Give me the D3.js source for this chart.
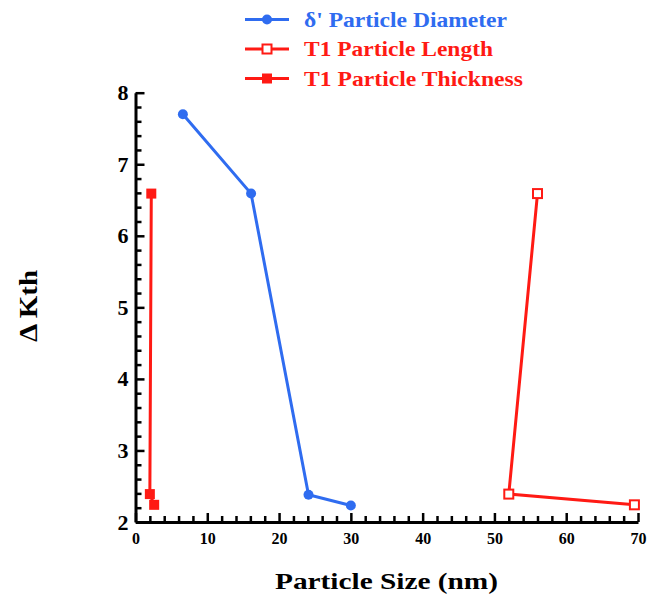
<!DOCTYPE html>
<html>
<head>
<meta charset="utf-8">
<script src="https://cdn.jsdelivr.net/npm/d3@7/dist/d3.min.js"></script>
<style>
  body { margin: 0; background: #fff; }
  svg text { font-family: "Liberation Serif", "Times New Roman", serif; font-weight: bold; }
</style>
</head>
<body>
<script>
// data
var seriesNames = ["\u03b4' Particle Diameter", "T1 Particle Length", "T1 Particle Thickness"];
var deltaSize = [6.6, 16.1, 24.1, 30.0];
var deltaKth = [7.70, 6.59, 2.38, 2.23];
var lengthSize = [56.0, 52.0, 69.5];
var lengthKth = [6.59, 2.39, 2.24];
var thickSize = [2.2, 2.0, 2.6];
var thickKth = [6.59, 2.39, 2.24];
var xMajor = [0, 10, 20, 30, 40, 50, 60, 70];
var yMajor = [2, 3, 4, 5, 6, 7, 8];

var blue = "#2f6cf0";
var red = "#ff1a14";

var width = 657, height = 599;
var svg = d3.select("body").append("svg")
    .attr("width", width)
    .attr("height", height);

var x = d3.scaleLinear().domain([0, 70]).range([135.5, 638]);
var y = d3.scaleLinear().domain([2, 8]).range([522, 92.7]);

var xMinor = d3.range(0, 70.01, 2).filter(function(v) { return v % 10 != 0; });
var yMinor = d3.range(2, 8.01, 0.2).filter(function(v) { return Math.abs(v - Math.round(v)) > 0.01; });

// axes: labels and inward major ticks
var xAxis = svg.append("g")
    .attr("transform", "translate(0," + y(2) + ")")
    .call(d3.axisBottom(x).tickValues(xMajor).tickFormat(d3.format("d"))
        .tickSizeInner(-9).tickSizeOuter(0).tickPadding(11));
xAxis.selectAll("text").attr("font-size", 16).attr("fill", "#000");

var yAxis = svg.append("g")
    .attr("transform", "translate(" + x(0) + ",0)")
    .call(d3.axisLeft(y).tickValues(yMajor).tickFormat(d3.format("d"))
        .tickSizeInner(-9).tickSizeOuter(0).tickPadding(7));
yAxis.selectAll("text").attr("font-size", 22).attr("fill", "#000");

// minor ticks
svg.append("g")
    .attr("transform", "translate(0," + y(2) + ")")
    .call(d3.axisBottom(x).tickValues(xMinor).tickSize(-6).tickFormat(""))
    .call(function(g) { g.select(".domain").remove(); });
svg.append("g")
    .attr("transform", "translate(" + x(0) + ",0)")
    .call(d3.axisLeft(y).tickValues(yMinor).tickSize(-6).tickFormat(""))
    .call(function(g) { g.select(".domain").remove(); });

svg.selectAll(".domain").attr("stroke", "#000").attr("stroke-width", 3);
svg.selectAll(".tick line").attr("stroke", "#000").attr("stroke-width", 2.5);

// axis titles
svg.append("text")
    .attr("x", 386.5).attr("y", 589)
    .attr("text-anchor", "middle")
    .attr("font-size", 24)
    .attr("textLength", 223)
    .attr("lengthAdjust", "spacingAndGlyphs")
    .text("Particle Size (nm)");

svg.append("text")
    .attr("transform", "translate(37,306) rotate(-90)")
    .attr("text-anchor", "middle")
    .attr("font-size", 25)
    .attr("textLength", 72)
    .attr("lengthAdjust", "spacingAndGlyphs")
    .text("\u0394 Kth");

var line = d3.line()
    .x(function(d) { return x(d[0]); })
    .y(function(d) { return y(d[1]); });

var series = [
  { name: seriesNames[0], color: blue, marker: "circle", pts: d3.zip(deltaSize, deltaKth), w: 203 },
  { name: seriesNames[1], color: red, marker: "open", pts: d3.zip(lengthSize, lengthKth), w: 189 },
  { name: seriesNames[2], color: red, marker: "square", pts: d3.zip(thickSize, thickKth), w: 219 }
];

function drawMarker(g, type, color, cx, cy) {
  if (type == "circle") {
    g.append("circle").attr("cx", cx).attr("cy", cy).attr("r", 5).attr("fill", color);
  } else if (type == "open") {
    g.append("rect").attr("x", cx - 4.5).attr("y", cy - 4.5).attr("width", 9).attr("height", 9)
        .attr("fill", "#fff").attr("stroke", color).attr("stroke-width", 2);
  } else {
    g.append("rect").attr("x", cx - 5).attr("y", cy - 5).attr("width", 10).attr("height", 10)
        .attr("fill", color);
  }
}

series.forEach(function(s) {
  var g = svg.append("g");
  g.append("path")
      .attr("d", line(s.pts))
      .attr("fill", "none")
      .attr("stroke", s.color)
      .attr("stroke-width", 3);
  s.pts.forEach(function(p) { drawMarker(g, s.marker, s.color, x(p[0]), y(p[1])); });
});

// legend
var legend = svg.append("g").attr("transform", "translate(245,19.5)");
series.forEach(function(s, i) {
  var row = legend.append("g").attr("transform", "translate(0," + (i * 29.5) + ")");
  row.append("line").attr("x1", 0).attr("x2", 44).attr("y1", 0).attr("y2", 0)
      .attr("stroke", s.color).attr("stroke-width", 3);
  drawMarker(row, s.marker, s.color, 22, 0);
  row.append("text")
      .attr("x", 59).attr("y", 7)
      .attr("font-size", 21)
      .attr("textLength", s.w)
      .attr("lengthAdjust", "spacingAndGlyphs")
      .attr("fill", s.color)
      .text(s.name);
});
</script>
</body>
</html>
